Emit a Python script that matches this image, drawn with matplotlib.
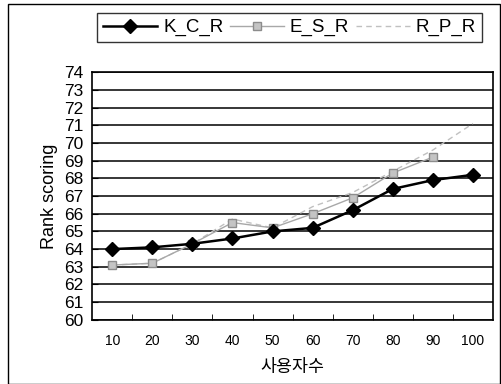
import matplotlib
matplotlib.use("Agg")
import matplotlib.pyplot as plt
from matplotlib.patches import Rectangle

plt.rcParams["font.family"] = ["Liberation Sans", "Noto Sans CJK KR"]

users = ["10", "20", "30", "40", "50", "60", "70", "80", "90", "100"]
k_c_r = [64.0, 64.1, 64.3, 64.6, 65.0, 65.2, 66.2, 67.4, 67.9, 68.2]
e_s_r = [63.1, 63.2, 64.3, 65.5, 65.2, 66.0, 66.9, 68.3, 69.2]
r_p_r = [63.1, 63.2, 64.3, 65.7, 65.2, 66.4, 67.2, 68.4, 69.6, 71.1]
y_ticks = list(range(60, 75))

fig = plt.figure(figsize=(5.01, 3.84), dpi=100)
ax = fig.add_axes([0.184, 0.167, 0.8, 0.645])

# outer frame of the whole chart
fig.patches.append(Rectangle((0.016, 0.0), 0.982, 0.99, transform=fig.transFigure,
                             fill=False, edgecolor="black", linewidth=1.0))

for v in y_ticks:
    ax.axhline(v, color="black", linewidth=1.1, zorder=1)

x = list(range(len(users)))
ax.plot(x, k_c_r, color="black", linewidth=1.8, marker="D", markersize=7,
        markerfacecolor="black", label="K_C_R", zorder=4)
ax.plot(x[:len(e_s_r)], e_s_r, color="#a8a8a8", linewidth=1.0, marker="s", markersize=6,
        markerfacecolor="#c4c4c4", markeredgecolor="#8c8c8c", label="E_S_R", zorder=3)
ax.plot(x, r_p_r, color="#c0c0c0", linewidth=1.0, linestyle=(0, (4, 3)),
        label="R_P_R", zorder=2)

ax.set_xlim(-0.5, len(users) - 0.5)
ax.set_ylim(60, 74)
ax.set_xticks(x)
ax.set_xticklabels(users, fontsize=10)
ax.set_xticks([i + 0.5 for i in range(len(users) - 1)], minor=True)
ax.tick_params(axis="x", which="major", length=0, pad=10)
ax.tick_params(axis="x", which="minor", direction="in", length=4)
ax.set_yticks(y_ticks)
ax.set_yticklabels([str(v) for v in y_ticks], fontsize=12.5)
ax.tick_params(axis="y", direction="in", length=4, pad=6)
for s in ax.spines.values():
    s.set_linewidth(1.2)

ax.set_ylabel("Rank scoring", fontsize=13, labelpad=5)
ax.set_xlabel("사용자수", fontsize=12.5, labelpad=8)

fig.legend(loc="center", bbox_to_anchor=(0.578, 0.928), ncol=3, frameon=True,
           fancybox=False, edgecolor="black", fontsize=13.5, handlelength=2.9,
           handletextpad=0.3, columnspacing=0.35, borderpad=0.3)

fig.savefig("out.png", dpi=100)
